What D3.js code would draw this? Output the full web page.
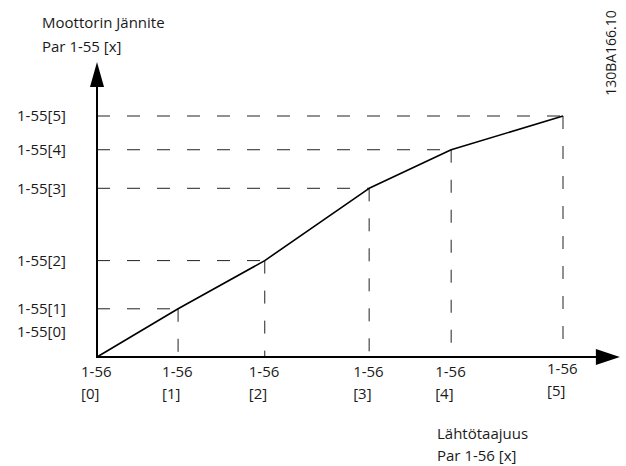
<!DOCTYPE html>
<html>
<head>
<meta charset="utf-8">
<script src="https://cdn.jsdelivr.net/npm/d3@7"></script>
<style>
  html, body { margin: 0; padding: 0; background: #fff; }
  svg { display: block; }
  text { font-family: "Open Sans", sans-serif; fill: #1a1a1a; }
</style>
</head>
<body>
<svg id="chart" width="626" height="466"></svg>
<script>
// Output frequency break points (Par 1-56) and motor voltage break points (Par 1-55), relative units
const freqPoints = [0, 17.4, 36, 58.4, 76, 100];
const voltPoints = [0, 20, 40, 70, 86, 100];
const pointIndex = ["0", "1", "2", "3", "4", "5"];
const yTickLabels = pointIndex.map(k => `1-55[${k}]`);
const xTickTop = pointIndex.map(() => "1-56");
const xTickBottom = pointIndex.map(k => `[${k}]`);
const yTitle = ["Moottorin Jännite", "Par 1-55 [x]"];
const xTitle = ["Lähtötaajuus", "Par 1-56 [x]"];
const docId = "130BA166.10";

const FS = 15;
const svg = d3.select("#chart");
const x = d3.scaleLinear().domain([0, 100]).range([97, 563]);
const y = d3.scaleLinear().domain([0, 100]).range([357, 116]);
const xEnd = 112.2, yEnd = 122.4;   // axis extents including arrow heads

const pts = freqPoints.map((f, i) => ({ f, v: voltPoints[i], i }));

// dashed guides from each break point to both axes
const guides = svg.append("g")
  .attr("stroke", "#222").attr("stroke-width", 1).attr("stroke-dasharray", "13,17").attr("fill", "none");
pts.slice(1).forEach(p => {
  guides.append("line").attr("x1", x(0)).attr("x2", x(p.f)).attr("y1", y(p.v)).attr("y2", y(p.v));
  guides.append("line").attr("x1", x(p.f)).attr("x2", x(p.f)).attr("y1", y(p.v)).attr("y2", y(0));
});

// axes with arrow heads
const axes = svg.append("g");
axes.append("line").attr("x1", x(0)).attr("x2", x(0)).attr("y1", y(0)).attr("y2", y(yEnd) + 20)
  .attr("stroke", "#000").attr("stroke-width", 2);
axes.append("line").attr("x1", x(0) - 1).attr("x2", x(xEnd) - 20).attr("y1", y(0)).attr("y2", y(0))
  .attr("stroke", "#000").attr("stroke-width", 2);
axes.append("path")
  .attr("d", `M${x(0)},${y(yEnd)} L${x(0) - 7},${y(yEnd) + 25} L${x(0) + 7},${y(yEnd) + 25} Z`)
  .attr("fill", "#000");
axes.append("path")
  .attr("d", `M${x(xEnd)},${y(0)} L${x(xEnd) - 24},${y(0) - 8} L${x(xEnd) - 24},${y(0) + 8} Z`)
  .attr("fill", "#000");

// V/f curve
svg.append("path")
  .datum(pts)
  .attr("d", d3.line().x(d => x(d.f)).y(d => y(d.v)))
  .attr("fill", "none").attr("stroke", "#000").attr("stroke-width", 1.6)
  .attr("stroke-linejoin", "round");

// y tick labels (the [0] label sits just above the axis)
svg.append("g").selectAll("text").data(pts).join("text")
  .attr("x", 17)
  .attr("y", d => d.i === 0 ? y(0) - 25 : y(d.v))
  .attr("dy", "0.35em")
  .attr("font-size", FS)
  .text(d => yTickLabels[d.i]);

// x tick labels (two lines each)
const xl = svg.append("g").selectAll("g").data(pts).join("g")
  .attr("transform", d => `translate(${x(d.f) - 16},${d.i === 5 ? -3 : 0})`);
xl.append("text").attr("y", 377).attr("font-size", FS).text(d => xTickTop[d.i]);
xl.append("text").attr("y", 399).attr("font-size", FS).text(d => xTickBottom[d.i]);

// axis titles
svg.append("g").selectAll("text").data(yTitle).join("text")
  .attr("x", 42).attr("y", (d, i) => 28 + i * 24).attr("font-size", FS).text(d => d);
svg.append("g").selectAll("text").data(xTitle).join("text")
  .attr("x", 437).attr("y", (d, i) => 439 + i * 22).attr("font-size", FS).text(d => d);

// drawing id, rotated
svg.append("text")
  .attr("transform", "translate(616,53) rotate(-90)")
  .attr("text-anchor", "middle").attr("font-size", 14)
  .text(docId);
</script>
</body>
</html>
